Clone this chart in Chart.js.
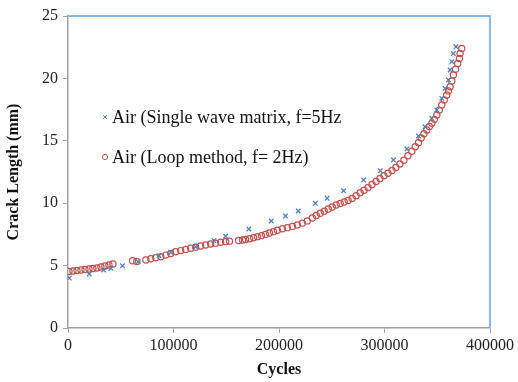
<!DOCTYPE html>
<html>
<head>
<meta charset="utf-8">
<title>Crack length vs cycles</title>
<script src="https://cdn.jsdelivr.net/npm/chart.js@4"></script>
<style>
  html, body { margin: 0; padding: 0; background: #fff; }
  #wrap { width: 518px; height: 382px; }
</style>
</head>
<body>
<div id="wrap"><canvas id="crackChart" width="518" height="382"></canvas></div>
<script>
// Single wave matrix, f=5Hz (cycles, crack length mm)
const singleCycles = [1200, 20100, 33800, 40700, 51700, 66500, 86300, 97400, 121000, 138300,
  149400, 171400, 192600, 206100, 218200, 234500, 245600, 261300, 280200, 296000,
  308500, 321200, 332200, 338500, 344900, 349600, 354300, 357400, 360600, 362200,
  363800, 365300, 367800];
const singleCrack = [4.0, 4.33, 4.65, 4.78, 4.99, 5.31, 5.79, 6.07, 6.51, 7.0,
  7.35, 7.93, 8.57, 8.97, 9.38, 9.99, 10.39, 11.0, 11.86, 12.6,
  13.46, 14.34, 15.38, 16.13, 16.8, 17.47, 18.4, 19.2, 19.87, 20.67,
  21.34, 22.0, 22.54];

// Loop method, f=2Hz
const loopCycles = [900, 4700, 8500, 12300, 16100, 19900, 23600, 27400, 31200, 35000, 38800, 42600,
  61200, 65200,
  73800, 78500, 83200, 88000, 92700, 97400, 102100, 106800, 111500, 116300, 121000, 125700,
  130500, 135200, 139900, 144700, 149400, 153100,
  161700, 165500, 168300, 172100, 175900, 179600, 183400, 187200, 191000, 194700, 198500,
  203200, 207900, 212700, 217400, 222100, 226800, 231600, 235300, 239100, 242900, 246700,
  250400, 254200, 258000, 261800, 265500, 269300, 273100, 276900, 280600, 284400, 288200,
  292000, 295700, 299500, 303300, 307100, 310800, 314600, 318400, 322200, 325900, 329200,
  332200, 334800, 337400, 340100, 342500, 344900, 347300, 349600, 352000, 354300, 356700,
  359000, 360600, 362200, 363800, 365300, 367400, 369400, 371000, 371600, 373200];
const loopCrack = [4.53, 4.57, 4.61, 4.65, 4.69, 4.73, 4.77, 4.81, 4.89, 4.97, 5.05, 5.13,
  5.39, 5.33,
  5.45, 5.55, 5.63, 5.71, 5.84, 5.97, 6.11, 6.20, 6.30, 6.39, 6.48, 6.57,
  6.65, 6.73, 6.80, 6.87, 6.92, 6.96,
  7.01, 7.05, 7.09, 7.15, 7.23, 7.32, 7.40, 7.50, 7.61, 7.72, 7.83,
  7.95, 8.04, 8.14, 8.25, 8.40, 8.58, 8.82, 9.02, 9.20, 9.36, 9.54,
  9.70, 9.85, 9.98, 10.10, 10.22, 10.38, 10.60, 10.84, 11.04, 11.26, 11.50,
  11.74, 11.98, 12.20, 12.40, 12.62, 12.86, 13.14, 13.44, 13.80, 14.16, 14.52,
  14.84, 15.22, 15.56, 15.87, 16.14, 16.40, 16.72, 17.07, 17.46, 17.87, 18.27,
  18.67, 19.00, 19.33, 19.80, 20.27, 20.74, 21.20, 21.60, 22.00, 22.40];

const seriesNames = ['Air (Single wave matrix, f=5Hz', 'Air (Loop method, f= 2Hz)'];

const toPoints = (xs, ys) => xs.map((x, i) => ({ x: x, y: ys[i] }));

const serif = '"Liberation Serif", "Times New Roman", serif';
const axisGray = '#a0a0a0';
const frameBlue = '#8ab8e6';

// legend drawn inside the plot, top left
const innerLegend = {
  id: 'innerLegend',
  afterDatasetsDraw(chart) {
    const ctx = chart.ctx;
    const rows = [117, 157];
    ctx.save();
    chart.data.datasets.forEach((ds, i) => {
      const y = rows[i];
      ctx.strokeStyle = ds.borderColor;
      ctx.fillStyle = 'rgba(0,0,0,0)';
      ctx.lineWidth = 1;
      Chart.helpers.drawPoint(ctx, {
        pointStyle: ds.pointStyle, radius: 2.6,
        borderWidth: 1, rotation: 0
      }, 105, y);
      ctx.fillStyle = '#111';
      ctx.font = '18px ' + serif;
      ctx.textBaseline = 'middle';
      ctx.textAlign = 'left';
      ctx.fillText(ds.label, 112, y + 1);
    });
    ctx.restore();
  }
};

// light blue top and right edges of the plot frame
const frameEdges = {
  id: 'frameEdges',
  beforeDatasetsDraw(chart) {
    const { ctx, chartArea: a } = chart;
    ctx.save();
    ctx.strokeStyle = frameBlue;
    ctx.lineWidth = 2;
    ctx.beginPath();
    ctx.moveTo(a.left, a.top);
    ctx.lineTo(a.right, a.top);
    ctx.lineTo(a.right, a.bottom);
    ctx.stroke();
    ctx.restore();
  }
};

new Chart(document.getElementById('crackChart'), {
  type: 'scatter',
  data: {
    datasets: [{
      label: seriesNames[0],
      data: toPoints(singleCycles, singleCrack),
      pointStyle: 'crossRot',
      pointRadius: 3.2,
      borderWidth: 1.3,
      borderColor: '#4f81bd',
      backgroundColor: '#4f81bd'
    }, {
      label: seriesNames[1],
      data: toPoints(loopCycles, loopCrack),
      pointStyle: 'circle',
      pointRadius: 3.1,
      borderWidth: 1.2,
      borderColor: '#c0504d',
      backgroundColor: 'rgba(255,255,255,0)'
    }]
  },
  options: {
    responsive: false,
    animation: false,
    layout: { padding: { top: 16, right: 28, left: 0, bottom: 0 } },
    plugins: {
      legend: { display: false },
      tooltip: { enabled: false }
    },
    scales: {
      x: {
        type: 'linear',
        min: 0,
        max: 400000,
        afterFit: s => { s.height = 54; },
        ticks: {
          stepSize: 100000,
          padding: 3,
          color: '#222',
          font: { family: serif, size: 16 },
          callback: v => String(v)
        },
        grid: { drawOnChartArea: false, tickLength: 5, color: axisGray },
        border: { color: axisGray, width: 1.5 },
        title: {
          display: true,
          text: 'Cycles',
          color: '#111',
          font: { family: serif, size: 16, weight: 'bold' },
          padding: { top: 0, bottom: 3 }
        }
      },
      y: {
        min: 0,
        max: 25,
        afterFit: s => { s.width = 68; },
        ticks: {
          stepSize: 5,
          padding: 5,
          color: '#222',
          font: { family: serif, size: 16 }
        },
        grid: { drawOnChartArea: false, tickLength: 5, color: axisGray },
        border: { color: axisGray, width: 1.5 },
        title: {
          display: true,
          text: 'Crack Length (mm)',
          color: '#111',
          font: { family: serif, size: 16, weight: 'bold' },
          padding: { top: 4, bottom: 0 }
        }
      }
    }
  },
  plugins: [frameEdges, innerLegend]
});
</script>
</body>
</html>
